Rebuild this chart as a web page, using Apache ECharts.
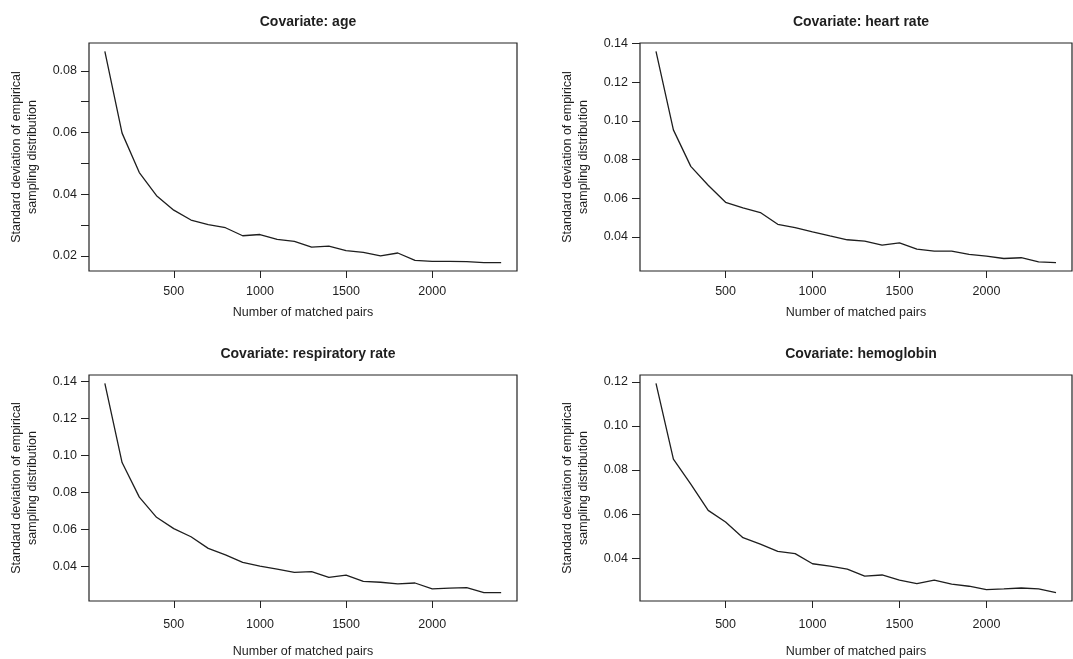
<!DOCTYPE html>
<html>
<head>
<meta charset="utf-8">
<title>Covariate SD</title>
<script src="https://cdn.jsdelivr.net/npm/echarts@6/dist/echarts.min.js"></script>
<style>
  html, body { margin: 0; padding: 0; background: #fff; }
  #chart { width: 1073px; height: 659px; }
</style>
</head>
<body>
<div id="chart"></div>
<script>
// x values (number of matched pairs)
var pairs = [100, 200, 300, 400, 500, 600, 700, 800, 900, 1000, 1100, 1200,
  1300, 1400, 1500, 1600, 1700, 1800, 1900, 2000, 2100, 2200, 2300, 2400]

// sd of empirical sampling distribution, one array per covariate
var ageSd = [0.0863, 0.0598, 0.0470, 0.0395, 0.0348, 0.0316, 0.0301, 0.0291,
  0.0265, 0.0269, 0.0253, 0.0247, 0.0228, 0.0231, 0.0217, 0.0211, 0.0200,
  0.0209, 0.0185, 0.0182, 0.0182, 0.0181, 0.0178, 0.0178]
var heartSd = [0.1360, 0.0954, 0.0765, 0.0667, 0.0579, 0.0550, 0.0526, 0.0465,
  0.0448, 0.0426, 0.0405, 0.0385, 0.0378, 0.0357, 0.0369, 0.0336, 0.0326,
  0.0326, 0.0309, 0.0300, 0.0288, 0.0292, 0.0271, 0.0267]
var respSd = [0.1388, 0.0960, 0.0773, 0.0664, 0.0603, 0.0559, 0.0496, 0.0461,
  0.0421, 0.0400, 0.0384, 0.0366, 0.0370, 0.0339, 0.0352, 0.0318, 0.0313,
  0.0304, 0.0309, 0.0277, 0.0281, 0.0284, 0.0257, 0.0257]
var hemoSd = [0.1193, 0.0849, 0.0736, 0.0617, 0.0564, 0.0493, 0.0464, 0.0431,
  0.0421, 0.0375, 0.0364, 0.0351, 0.0319, 0.0324, 0.0301, 0.0285, 0.0301,
  0.0283, 0.0273, 0.0258, 0.0261, 0.0265, 0.0261, 0.0244]

// tick positions
var xTicks = [500, 1000, 1500, 2000]
var ageTicks = [0.02, 0.03, 0.04, 0.05, 0.06, 0.07, 0.08]
var ageLabels = [0.02, 0.04, 0.06, 0.08]
var heartTicks = [0.04, 0.06, 0.08, 0.10, 0.12, 0.14]
var respTicks = [0.04, 0.06, 0.08, 0.10, 0.12, 0.14]
var hemoTicks = [0.04, 0.06, 0.08, 0.10, 0.12]

var titles = ['Covariate: age', 'Covariate: heart rate', 'Covariate: respiratory rate', 'Covariate: hemoglobin']
var xName = 'Number of matched pairs'
var yName = 'Standard deviation of empirical\nsampling distribution'

var font = 'Liberation Sans, Arial, Helvetica, sans-serif'
var ink = '#1e1e1e'

// R style range: data range widened by 4% each side
function padRange(arr) {
  var lo = Math.min.apply(null, arr)
  var hi = Math.max.apply(null, arr)
  var d = (hi - lo) * 0.04
  return [lo - d, hi + d]
}

var panels = [
  { sd: ageSd, ticks: ageTicks, labels: ageLabels, left: 89, top: 43, width: 428, nameGap: 35, labelGap: 14 },
  { sd: heartSd, ticks: heartTicks, labels: heartTicks, left: 640, top: 43, width: 432, nameGap: 35, labelGap: 14 },
  { sd: respSd, ticks: respTicks, labels: respTicks, left: 89, top: 375, width: 428, nameGap: 44, labelGap: 17 },
  { sd: hemoSd, ticks: hemoTicks, labels: hemoTicks, left: 640, top: 375, width: 432, nameGap: 44, labelGap: 17 }
]

var xr = padRange(pairs)
var option = { animation: false, title: [], grid: [], xAxis: [], yAxis: [], series: [] }

for (var i = 0; i < panels.length; i++) {
  var p = panels[i]
  var yr = padRange(p.sd)
  option.title.push({
    text: titles[i],
    left: p.left + p.width / 2,
    top: p.top - 33,
    textAlign: 'center',
    textStyle: { fontFamily: font, fontSize: 14, fontWeight: 'bold', color: ink }
  })
  option.grid.push({
    left: p.left, top: p.top, width: p.width, height: 228,
    show: true, borderColor: '#222', borderWidth: 1.2, backgroundColor: 'transparent'
  })
  option.xAxis.push({
    type: 'value', gridIndex: i, min: xr[0], max: xr[1],
    name: xName, nameLocation: 'middle', nameGap: p.nameGap,
    nameTextStyle: { fontFamily: font, fontSize: 12.5, color: ink },
    axisLine: { show: false },
    axisTick: { show: true, length: 7, customValues: xTicks, lineStyle: { color: '#222' } },
    axisLabel: {
      customValues: xTicks, margin: p.labelGap, fontFamily: font, fontSize: 12.5, color: ink,
      formatter: function(v) { return String(v) }
    },
    splitLine: { show: false }
  })
  option.yAxis.push({
    type: 'value', gridIndex: i, min: yr[0], max: yr[1],
    name: yName, nameLocation: 'middle', nameRotate: 90, nameGap: 48,
    nameTextStyle: { fontFamily: font, fontSize: 12.5, color: ink, lineHeight: 16 },
    axisLine: { show: false },
    axisTick: { show: true, length: 8, customValues: p.ticks, lineStyle: { color: '#222' } },
    axisLabel: {
      customValues: p.labels, margin: 12, fontFamily: font, fontSize: 12.5, color: ink,
      formatter: function(v) { return v.toFixed(2) }
    },
    splitLine: { show: false }
  })
  var pts = []
  for (var j = 0; j < pairs.length; j++) {
    pts.push([pairs[j], p.sd[j]])
  }
  option.series.push({
    type: 'line', xAxisIndex: i, yAxisIndex: i, data: pts,
    showSymbol: false, silent: true,
    lineStyle: { color: ink, width: 1.3 }
  })
}

var chart = echarts.init(document.getElementById('chart'))
chart.setOption(option)
window.addEventListener('resize', function() {
  chart.resize()
})
</script>
</body>
</html>
